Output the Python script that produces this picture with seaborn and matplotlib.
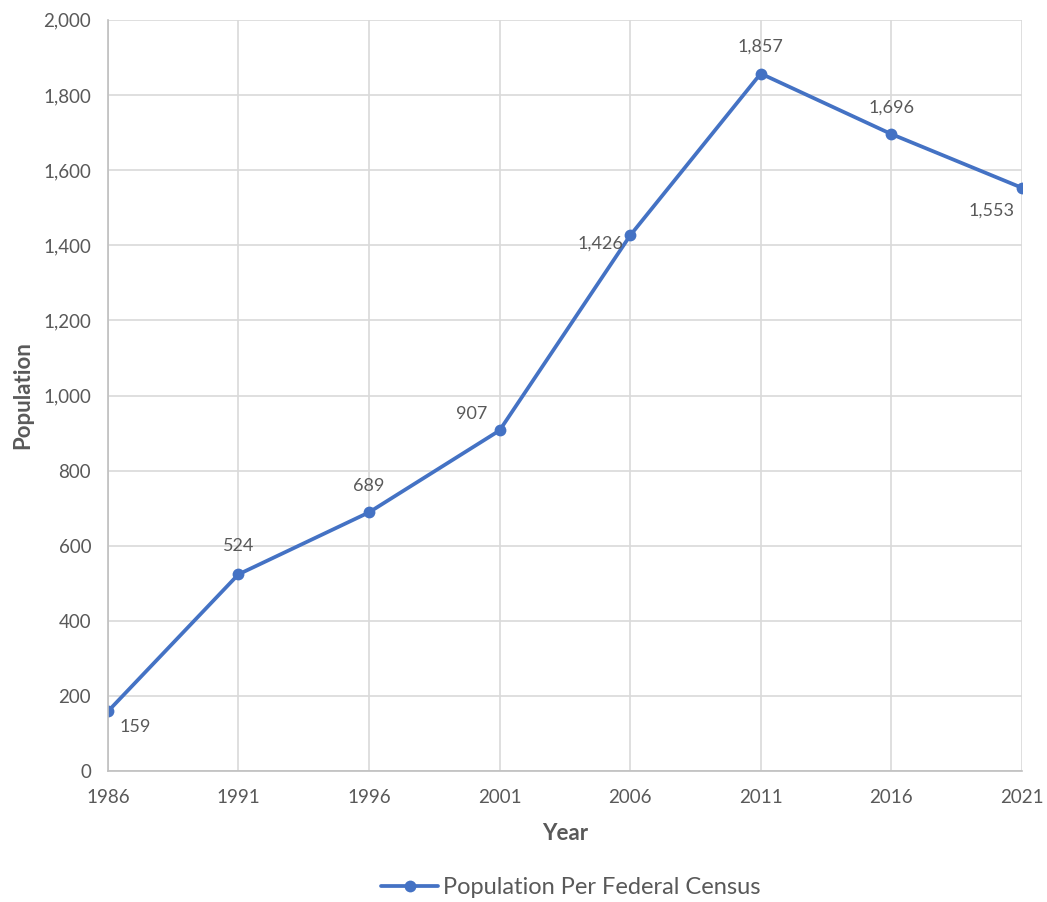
import matplotlib
matplotlib.use("Agg")
import matplotlib.pyplot as plt
import seaborn as sns
import pandas as pd

years = [1986, 1991, 1996, 2001, 2006, 2011, 2016, 2021]
population = [159, 524, 689, 907, 1426, 1857, 1696, 1553]
series_name = "Population Per Federal Census"
# label placement (pixel offsets from each point)
label_offsets = [(27, -16), (0, 28), (0, 26), (-28, 16), (-30, -8), (0, 27), (0, 26), (-30, -23)]

sns.set_theme(style="white")
plt.rcParams["font.family"] = ["Lato", "DejaVu Sans"]

text_color = "#595959"
grid_color = "#d9d9d9"
line_color = "#4472c4"

df = pd.DataFrame({"Year": years, "Population": population, "Series": series_name})

fig = plt.figure(figsize=(10.47, 9.02), dpi=100)
ax = fig.add_axes([0.103, 0.145, 0.873, 0.833])

sns.lineplot(data=df, x="Year", y="Population", hue="Series", palette=[line_color],
             marker="o", markersize=8.5, markeredgewidth=0, linewidth=2.7, ax=ax)

ax.set_xlim(1986, 2021)
ax.set_ylim(0, 2000)
ax.set_xticks(years)
ax.set_yticks(range(0, 2001, 200))
ax.set_yticklabels([f"{v:,}" for v in range(0, 2001, 200)])
ax.grid(True, color=grid_color, linewidth=1.2)
ax.set_axisbelow(True)
for side in ["top", "right"]:
    ax.spines[side].set_visible(False)
for side in ["left", "bottom"]:
    ax.spines[side].set_color("#bfbfbf")
    ax.spines[side].set_linewidth(1.2)

ax.tick_params(axis="both", length=0, labelsize=13.5, labelcolor=text_color)
ax.tick_params(axis="y", pad=12)
ax.tick_params(axis="x", pad=13)
ax.set_xlabel("Year", fontsize=16, fontweight="bold", color=text_color, labelpad=12)
ax.set_ylabel("Population", fontsize=16, fontweight="bold", color=text_color, labelpad=7)

for x, y, (dx, dy) in zip(years, population, label_offsets):
    ax.annotate(f"{y:,}", (x, y), xytext=(dx, dy), textcoords="offset pixels",
                ha="center", va="center", fontsize=13, color=text_color,
                annotation_clip=False)

handles, _ = ax.get_legend_handles_labels()
ax.get_legend().remove()
fig.legend(handles=handles, labels=[series_name], loc="center",
           bbox_to_anchor=(0.545, 0.016), frameon=False, fontsize=17,
           handlelength=2.4, handletextpad=0.2, labelcolor=text_color)

fig.savefig("out.png", dpi=100, facecolor="white")
